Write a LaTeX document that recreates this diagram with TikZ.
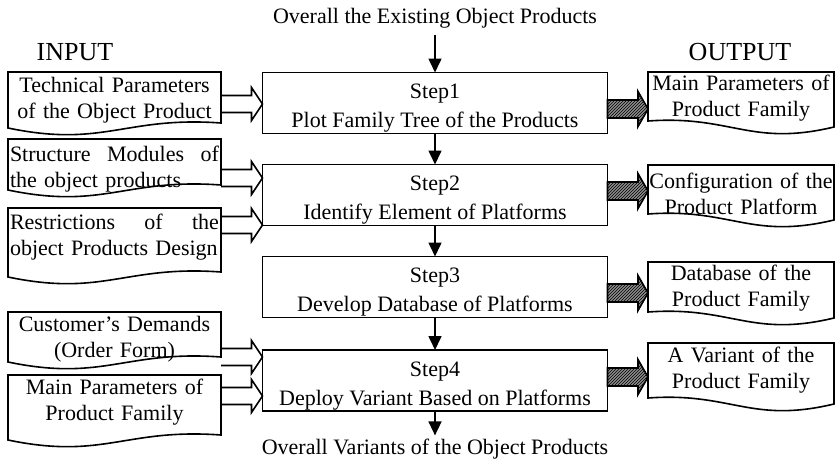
\documentclass[tikz,border=0pt]{standalone}
\usepackage{fontspec}
\setmainfont{Liberation Serif}
\usetikzlibrary{calc,arrows.meta,patterns}
\newcommand\indoc[3]{%
  \coordinate (#1-tl) at (#1.west |- 0,#2);
  \coordinate (#1-tr) at (#1.east |- 0,#2);
  \coordinate (#1-bl) at (#1.west |- 0,#3);
  \coordinate (#1-br) at (#1.east |- 0,#3);
  \draw[docline] (#1-bl) -- (#1-tl) -- (#1-tr) -- ($(#1-br)+(0,-5)$)
    .. controls ($(#1-bl)!0.55!(#1-br)+(0,-12)$) and ($(#1-bl)!0.45!(#1-br)+(0,20)$) .. (#1-bl) -- cycle;}
\newcommand\outdoc[3]{%
  \coordinate (#1-tl) at (#1.west |- 0,#2);
  \coordinate (#1-tr) at (#1.east |- 0,#2);
  \coordinate (#1-bl) at (#1.west |- 0,#3);
  \coordinate (#1-br) at (#1.east |- 0,#3);
  \draw[docline] (#1-br) -- (#1-tr) -- (#1-tl) -- ($(#1-bl)+(0,-6)$)
    .. controls ($(#1-bl)!0.45!(#1-br)+(0,-12)$) and ($(#1-bl)!0.55!(#1-br)+(0,20)$) .. (#1-br) -- cycle;}
\newcommand\hollowarrow[2]{%
  \draw[hol] let \p1=(#1), \p2=(#2) in
    (\x1,\y1+8.5pt) -- (\x2-11pt,\y1+8.5pt) -- (\x2-11pt,\y1+16.5pt) -- (\x2,\y1)
    -- (\x2-11pt,\y1-16.5pt) -- (\x2-11pt,\y1-8.5pt) -- (\x1,\y1-8.5pt);}
\newcommand\hatcharrow[2]{%
  \draw[hatch] let \p1=(#1), \p2=(#2) in
    (\x1,\y1+9pt) -- (\x2-10pt,\y1+9pt) -- (\x2-10pt,\y1+17.5pt) -- (\x2,\y1)
    -- (\x2-10pt,\y1-17.5pt) -- (\x2-10pt,\y1-9pt) -- (\x1,\y1-9pt) -- cycle;}
\newcommand\steptext[2]{\rule{0pt}{26pt}#1\\#2\rule[-6pt]{0pt}{6pt}}
\begin{document}
\begin{tikzpicture}[x=1pt,y=-1pt,
  font=\fontsize{22}{26}\selectfont,
  stepbox/.style={draw, line width=1.6pt, minimum width=345pt, minimum height=61pt,
    align=center, inner sep=0pt, outer sep=0pt, font=\fontsize{22}{29}\selectfont},
  intext/.style={minimum width=213pt, text width=209pt, inner xsep=2pt, inner ysep=0pt,
    outer sep=0pt, align=center},
  outtext/.style={minimum width=186pt, text width=186pt, inner xsep=0pt, inner ysep=0pt,
    outer sep=0pt, align=center},
  title/.style={font=\fontsize{26}{30}\selectfont},
  docline/.style={line width=1.6pt, line join=miter},
  flow/.style={line width=1.6pt, -{Triangle[width=13pt,length=14pt]}},
  hol/.style={line width=1.6pt, line join=miter},
  hatch/.style={line width=1.6pt, line join=miter, fill=black!45,
    postaction={pattern=north east lines, pattern color=black}},
]
\useasboundingbox (0,0) rectangle (835,466);

% titles
\node[title] (inp) at (75,52) {INPUT};
\node[title] (outp) at (740,52) {OUTPUT};

% steps
\node[stepbox] (s1) at (435,103) {\steptext{Step1}{Plot Family Tree of the Products}};
\node[stepbox] (s2) at (435,195) {\steptext{Step2}{Identify Element of Platforms}};
\node[stepbox] (s3) at (435,287) {\steptext{Step3}{Develop Database of Platforms}};
\node[stepbox] (s4) at (435,380.5) {\steptext{Step4}{Deploy Variant Based on Platforms}};

% top / bottom texts
\node (top) at (435,18) {Overall the Existing Object Products};
\node (bot) at (435,449) {Overall Variants of the Object Products};

\draw[flow, shorten <=3pt] (top.south) -- (s1.north);
\draw[flow] (s1.south) -- (s2.north);
\draw[flow] (s2.south) -- (s3.north);
\draw[flow] (s3.south) -- (s4.north);
\draw[flow] (s4.south) -- (bot.north);

% input documents
\node[intext] (in1) at (114.5,100) {Technical Parameters\\of the Object Product};
\node[intext, align=left] (in2) at (114.5,169) {\hbox to 209pt{Structure\hfill Modules\hfill of}\\the object products};
\node[intext, align=left] (in3) at (114.5,237) {\hbox to 209pt{Restrictions\hfill of\hfill the}\\object Products Design};
\node[intext] (in4) at (114.5,339) {Customer’s Demands\\(Order Form)};
\node[intext] (in5) at (114.5,402) {Main Parameters of\\Product Family};
\indoc{in1}{72}{128}
\indoc{in2}{139}{190}
\indoc{in3}{208}{277}
\indoc{in4}{312}{362}
\indoc{in5}{375}{440}

% output documents
\node[outtext] (out1) at (741,98.5) {Main Parameters of\\Product Family};
\node[outtext] (out2) at (741,194) {Configuration of the\\Product Platform};
\node[outtext] (out3) at (741,288.5) {Database of the\\Product Family};
\node[outtext] (out4) at (741,370) {A Variant of the\\Product Family};
\outdoc{out1}{72}{127}
\outdoc{out2}{165}{220}
\outdoc{out3}{262}{318}
\outdoc{out4}{343}{404}

% input arrows
\hollowarrow{in1.east |- 0,104}{s1.west |- 0,104}
\hollowarrow{in2.east |- 0,178}{s2.west |- 0,178}
\hollowarrow{in3.east |- 0,225}{s2.west |- 0,225}
\hollowarrow{in4.east |- 0,357}{s4.west |- 0,357}
\hollowarrow{in5.east |- 0,396}{s4.west |- 0,396}

% output arrows
\hatcharrow{s1.east |- 0,109}{out1.west |- 0,109}
\hatcharrow{s2.east |- 0,191}{out2.west |- 0,191}
\hatcharrow{s3.east |- 0,293}{out3.west |- 0,293}
\hatcharrow{s4.east |- 0,377}{out4.west |- 0,377}
\end{tikzpicture}
\end{document}
